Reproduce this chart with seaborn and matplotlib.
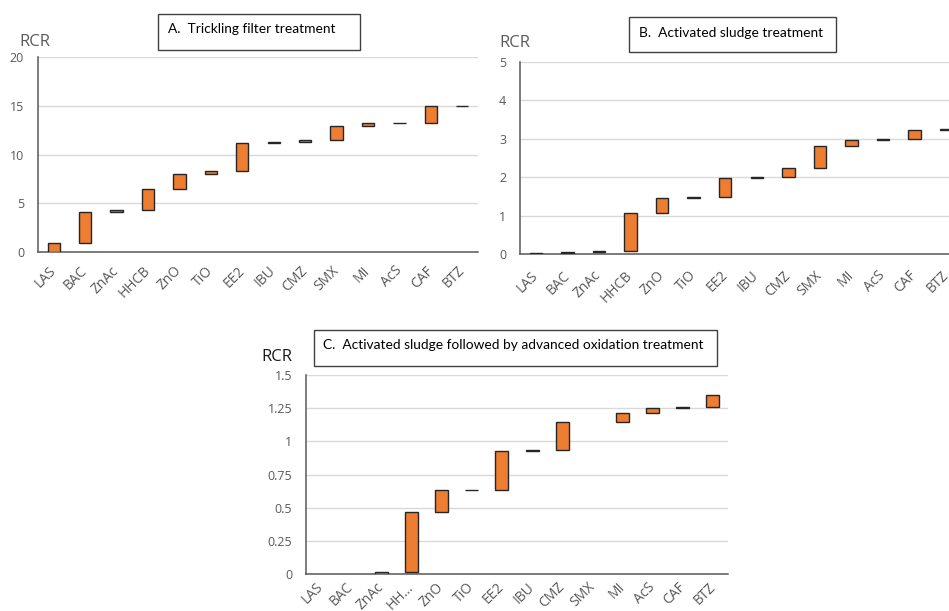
import numpy as np
import pandas as pd
import matplotlib
matplotlib.use("Agg")
import matplotlib.pyplot as plt
from matplotlib.patches import Rectangle
import seaborn as sns

# Compounds in plotting order and their risk characterisation ratios (RCR)
compounds = ["LAS", "BAC", "ZnAc", "HHCB", "ZnO", "TiO", "EE2",
             "IBU", "CMZ", "SMX", "MI", "AcS", "CAF", "BTZ"]
labels_ab = compounds
labels_c = ["LAS", "BAC", "ZnAc", "HH...", "ZnO", "TiO", "EE2",
            "IBU", "CMZ", "SMX", "MI", "AcS", "CAF", "BTZ"]

rcr_trickling = [0.92, 3.15, 0.22, 2.17, 1.57, 0.27, 2.90,
                 0.06, 0.27, 1.35, 0.33, 0.05, 1.70, 0.04]
rcr_activated = [0.015, 0.03, 0.035, 1.00, 0.39, 0.01, 0.51,
                 0.02, 0.22, 0.58, 0.16, 0.02, 0.24, 0.03]
rcr_advanced = [0.0, 0.0, 0.018, 0.452, 0.16, 0.006, 0.29,
                0.006, 0.21, 0.0, 0.074, 0.038, 0.006, 0.087]

yticks_a = [0, 5, 10, 15, 20]
yticks_b = [0, 1, 2, 3, 4, 5]
yticks_c = [0, 0.25, 0.5, 0.75, 1.0, 1.25, 1.5]
yticklabels_a = ["0", "5", "10", "15", "20"]
yticklabels_b = ["0", "1", "2", "3", "4", "5"]
yticklabels_c = ["0", "0.25", "0.5", "0.75", "1", "1.25", "1.5"]

title_a = "A.  Trickling filter treatment"
title_b = "B.  Activated sludge treatment"
title_c = "C.  Activated sludge followed by advanced oxidation treatment"
axis_label = "RCR"

ORANGE = "#ED7D31"
EDGE = "#262626"
GREY_TEXT = "#595959"
GRID = "#D9D9D9"

sns.set_theme(style="white")
plt.rcParams["font.family"] = ["Open Sans", "DejaVu Sans"]

W, H = 949, 611
fig = plt.figure(figsize=(W / 100, H / 100), dpi=100)


def px_axes(left, right, top, bottom):
    return fig.add_axes([left / W, (H - bottom) / H, (right - left) / W, (bottom - top) / H])


def waterfall(ax, values, width, yticks, yticklabels, xlabels, xpad):
    df = pd.DataFrame({"compound": compounds, "rcr": values})
    df["start"] = df["rcr"].cumsum() - df["rcr"]
    shown = df[df["rcr"] > 0]
    sns.barplot(data=shown, x="compound", y="rcr", order=compounds,
                bottom=shown["start"].to_numpy(), width=width,
                color=ORANGE, saturation=1, edgecolor=EDGE, linewidth=1.0,
                errorbar=None, ax=ax, zorder=5)
    ax.set_xlim(-0.5, len(compounds) - 0.5)
    ax.set_ylim(yticks[0], yticks[-1])
    ax.set_yticks(yticks)
    ax.set_yticklabels(yticklabels)
    ax.set_xticks(range(len(compounds)))
    ax.set_xticklabels(xlabels, rotation=45, ha="right", va="center",
                       rotation_mode="anchor")
    ax.set_xlabel("")
    ax.set_ylabel("")
    ax.tick_params(axis="both", length=0, labelcolor=GREY_TEXT)
    ax.tick_params(axis="y", pad=10, labelsize=9)
    ax.tick_params(axis="x", pad=xpad, labelsize=10)
    ax.yaxis.grid(True, color=GRID, linewidth=1.0, zorder=0)
    ax.set_axisbelow(True)
    for side in ("top", "right"):
        ax.spines[side].set_visible(False)
    for side in ("left", "bottom"):
        ax.spines[side].set_color("#595959")
        ax.spines[side].set_linewidth(1.1)
        ax.spines[side].set_zorder(4)


ax_a = px_axes(38, 478, 57, 252)
waterfall(ax_a, rcr_trickling, 0.39, yticks_a, yticklabels_a, labels_ab, 12)

ax_b = px_axes(520, 962, 62, 254)
waterfall(ax_b, rcr_activated, 0.39, yticks_b, yticklabels_b, labels_ab, 14)

ax_c = px_axes(306, 728, 375, 574)
waterfall(ax_c, rcr_advanced, 0.43, yticks_c, yticklabels_c, labels_c, 8)


def title_box(left, right, top, bottom, text_x, text_y, text):
    fig.patches.append(Rectangle((left / W, (H - bottom) / H), (right - left) / W,
                                 (bottom - top) / H, transform=fig.transFigure,
                                 facecolor="white", edgecolor="#404040",
                                 linewidth=1.0, zorder=5))
    fig.text(text_x / W, (H - text_y) / H, text, fontsize=9.9, color="black",
             family=["Lato", "DejaVu Sans"], ha="left", va="center", zorder=6)


title_box(158, 360, 14, 50, 168, 29, title_a)
title_box(629, 836, 17, 52, 639, 33, title_b)
title_box(314, 717, 330, 366, 323, 345, title_c)

fig.text(19 / W, (H - 42) / H, axis_label, fontsize=12, color=GREY_TEXT,
         ha="left", va="center")
fig.text(499 / W, (H - 43) / H, axis_label, fontsize=12, color=GREY_TEXT,
         ha="left", va="center")
fig.text(261 / W, (H - 357) / H, axis_label, fontsize=12, color="#1a1a1a",
         ha="left", va="center")

fig.savefig("out.png", dpi=100, facecolor="white")
